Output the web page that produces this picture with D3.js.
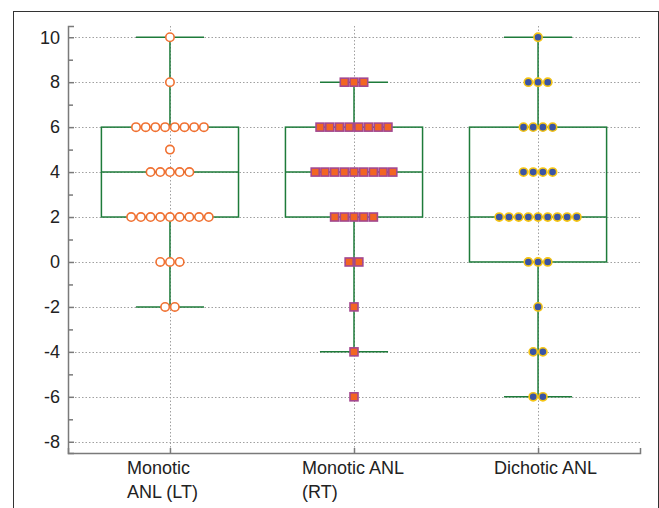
<!DOCTYPE html>
<html>
<head>
<meta charset="utf-8">
<script src="https://cdn.jsdelivr.net/npm/d3@7"></script>
<style>
  body { margin: 0; background: #fff; }
  svg { display: block; font-family: "Liberation Sans", Arial, sans-serif; }
</style>
</head>
<body>
<div id="chart"></div>
<script>
// Categories and their label lines
var categories = ["Monotic ANL (LT)", "Monotic ANL (RT)", "Dichotic ANL"];
var labelLines = [["Monotic", "ANL (LT)"], ["Monotic ANL", "(RT)"], ["Dichotic ANL"]];

var monoticLT = [[10, 1], [8, 1], [6, 8], [5, 1], [4, 5], [2, 9], [0, 3], [-2, 2]];
var monoticRT = [[8, 3], [6, 8], [4, 9], [2, 5], [0, 2], [-2, 1], [-4, 1], [-6, 1]];
var dichotic  = [[10, 1], [8, 3], [6, 4], [4, 4], [2, 9], [0, 3], [-2, 1], [-4, 2], [-6, 2]];

// Box summaries [low whisker, q1, median, q3, high whisker]
var boxStats = [
  [-2, 2, 4, 6, 10],
  [-4, 2, 4, 6, 8],
  [-6, 0, 2, 6, 10]
];

var yTicks = [10, 8, 6, 4, 2, 0, -2, -4, -6, -8];
var yMinorTicks = [9, 7, 5, 3, 1, -1, -3, -5, -7];

// Layout
var svgWidth = 659;
var svgHeight = 508;
var plot = { left: 68, right: 640, top: 26, bottom: 453 };
var labelShift = [-43, -52, -44];

var svg = d3.select("#chart")
  .append("svg")
  .attr("width", svgWidth)
  .attr("height", svgHeight);

var x = d3.scalePoint()
  .domain(categories)
  .range([plot.left, plot.right])
  .padding(0.554);

var y = d3.scaleLinear()
  .domain([-8.5, 10.5])
  .range([plot.bottom, plot.top]);

var step = x.step();
var boxW = step * 0.745;
var capW = step * 0.37;
var spacing = 9.7;

// Outer frame of the figure
svg.append("rect")
  .attr("x", 13.5)
  .attr("y", 11.5)
  .attr("width", 645)
  .attr("height", 520)
  .attr("fill", "none")
  .attr("stroke", "#333")
  .attr("stroke-width", 1);

// Grid lines
svg.append("g")
  .selectAll("line")
  .data(yTicks)
  .enter()
  .append("line")
  .attr("x1", plot.left)
  .attr("x2", plot.right)
  .attr("y1", d => Math.round(y(d)) + 0.5)
  .attr("y2", d => Math.round(y(d)) + 0.5)
  .attr("stroke", "#a0a0a0")
  .attr("stroke-dasharray", "1.5,2");

svg.append("g")
  .selectAll("line")
  .data(categories)
  .enter()
  .append("line")
  .attr("x1", d => Math.round(x(d)) + 0.5)
  .attr("x2", d => Math.round(x(d)) + 0.5)
  .attr("y1", plot.top)
  .attr("y2", plot.bottom)
  .attr("stroke", "#a0a0a0")
  .attr("stroke-dasharray", "1.5,2");

// Axes (ticks point inward)
var leftAxis = d3.axisRight(y)
  .tickValues(yTicks)
  .tickSize(6)
  .tickFormat("");
var minorAxis = d3.axisRight(y)
  .tickValues(yMinorTicks)
  .tickSize(5)
  .tickFormat("");

svg.append("g")
  .attr("transform", `translate(${plot.left}, 0)`)
  .call(leftAxis);
svg.append("g")
  .attr("transform", `translate(${plot.left}, 0)`)
  .call(minorAxis)
  .select(".domain").remove();

var bottomAxis = d3.axisTop(x)
  .tickSize(5)
  .tickFormat("");
svg.append("g")
  .attr("transform", `translate(0, ${plot.bottom})`)
  .call(bottomAxis);

svg.selectAll(".domain, .tick line")
  .attr("stroke", "#7a7a7a")
  .attr("stroke-width", 1.5);

// Y tick labels
svg.append("g")
  .selectAll("text")
  .data(yTicks)
  .enter()
  .append("text")
  .attr("x", plot.left - 8)
  .attr("y", d => y(d))
  .attr("dy", "0.35em")
  .attr("text-anchor", "end")
  .attr("font-size", 18)
  .attr("fill", "#222")
  .text(d => d);

// Category labels
var catLabels = svg.append("g")
  .selectAll("text")
  .data(categories)
  .enter()
  .append("text")
  .attr("font-size", 18)
  .attr("fill", "#222")
  .attr("text-anchor", "start");
catLabels.each(function(d, i) {
  var t = d3.select(this);
  labelLines[i].forEach(function(line, j) {
    t.append("tspan")
      .attr("x", x(d) + labelShift[i])
      .attr("y", 474 + j * 24)
      .text(line);
  });
});

// Box plots
var green = "#1e7b3a";
var boxes = svg.append("g")
  .selectAll("g")
  .data(categories)
  .enter()
  .append("g");

boxes.each(function(d, i) {
  var g = d3.select(this);
  var s = boxStats[i];
  var cx = x(d);
  g.append("line")
    .attr("x1", cx).attr("x2", cx)
    .attr("y1", y(s[0])).attr("y2", y(s[1]))
    .attr("stroke", green).attr("stroke-width", 1.5);
  g.append("line")
    .attr("x1", cx).attr("x2", cx)
    .attr("y1", y(s[3])).attr("y2", y(s[4]))
    .attr("stroke", green).attr("stroke-width", 1.5);
  [s[0], s[4]].forEach(function(v) {
    g.append("line")
      .attr("x1", cx - capW / 2).attr("x2", cx + capW / 2)
      .attr("y1", y(v)).attr("y2", y(v))
      .attr("stroke", green).attr("stroke-width", 1.5);
  });
  g.append("rect")
    .attr("x", cx - boxW / 2)
    .attr("y", y(s[3]))
    .attr("width", boxW)
    .attr("height", y(s[1]) - y(s[3]))
    .attr("fill", "none")
    .attr("stroke", green)
    .attr("stroke-width", 1.5);
  g.append("line")
    .attr("x1", cx - boxW / 2).attr("x2", cx + boxW / 2)
    .attr("y1", y(s[2])).attr("y2", y(s[2]))
    .attr("stroke", green).attr("stroke-width", 1.5);
});

// Expand counts into dot positions, centred on the category
function spread(rows, cat) {
  var pts = [];
  rows.forEach(function(r) {
    for (var k = 0; k < r[1]; k++) {
      pts.push({ x: x(cat) + (k - (r[1] - 1) / 2) * spacing, y: y(r[0]) });
    }
  });
  return pts;
}

svg.append("g")
  .selectAll("circle")
  .data(spread(monoticLT, categories[0]))
  .enter()
  .append("circle")
  .attr("cx", d => d.x)
  .attr("cy", d => d.y)
  .attr("r", 4.2)
  .attr("fill", "#fff")
  .attr("stroke", "#f07132")
  .attr("stroke-width", 1.6);

svg.append("g")
  .selectAll("rect")
  .data(spread(monoticRT, categories[1]))
  .enter()
  .append("rect")
  .attr("x", d => d.x - 4)
  .attr("y", d => d.y - 4)
  .attr("width", 8)
  .attr("height", 8)
  .attr("fill", "#f26522")
  .attr("stroke", "#a3488f")
  .attr("stroke-width", 1.6);

svg.append("g")
  .selectAll("circle")
  .data(spread(dichotic, categories[2]))
  .enter()
  .append("circle")
  .attr("cx", d => d.x)
  .attr("cy", d => d.y)
  .attr("r", 4.1)
  .attr("fill", "#3a54a4")
  .attr("stroke", "#f6c514")
  .attr("stroke-width", 1.6);
</script>
</body>
</html>
